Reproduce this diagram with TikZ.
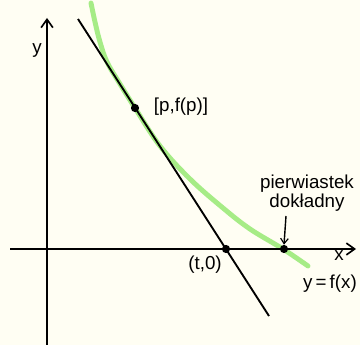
\documentclass[tikz,border=0pt]{standalone}
\usepackage{fontspec}
\setmainfont{Liberation Sans}
\usetikzlibrary{arrows.meta}
\definecolor{bg}{HTML}{FFFEF3}
\definecolor{curvegreen}{HTML}{A6EC86}
\begin{document}
\begin{tikzpicture}[x=0.03cm,y=-0.03cm,
  axis/.style={line width=1.7pt,-{Straight Barb[length=7pt,width=10pt,line width=1.4pt]}},
  blackline/.style={line width=1.6pt},
  greencurve/.style={line width=4.2pt,curvegreen,line cap=round},
  dot/.style={circle,fill=black,inner sep=0pt,minimum size=7pt},
  lbl/.style={font=\fontsize{16}{18}\selectfont,inner sep=0pt}]
\fill[bg] (0,0) rectangle (360,345);
\useasboundingbox (0,0) rectangle (360,345);
% green curve
\draw[greencurve] plot[smooth,tension=0.6] coordinates {(91,3) (95,22) (100,42) (107,62) (120,84) (135,108) (160,146) (190,179) (223,208) (250,229) (283,249) (308,266)};
% axes
\coordinate (xs) at (10,249);
\coordinate (xe) at (356,249);
\coordinate (ys) at (47,345);
\coordinate (ye) at (47,18);
\draw[axis] (xs) -- (xe);
\draw[axis] (ys) -- (ye);
% tangent line
\coordinate (ts) at (78,19);
\coordinate (te) at (269,316);
\draw[blackline] (ts) -- (te);
% points
\node[dot] (p) at (135,108) {};
\node[dot] (t) at (226,249) {};
\node[dot] (r) at (284,249) {};
% labels
\node[lbl] (ylab) at (37,50) {y};
\node[lbl] (xlab) at (339,256) {x};
\node[lbl] (plab) at (181,107) {[p,f(p)]};
\node[lbl] (tlab) at (205,265) {(t,0)};
\node[lbl] (flab) at (330,284) {y\,=\,f(x)};
\node[lbl,align=center] (rlab) at (307,193) {pierwiastek\\[-2pt]dokładny};
\draw[line width=1.2pt,-{Straight Barb[length=4.5pt,width=6.5pt,line width=1pt]}] (286,216) -- (r.north);
\end{tikzpicture}
\end{document}
